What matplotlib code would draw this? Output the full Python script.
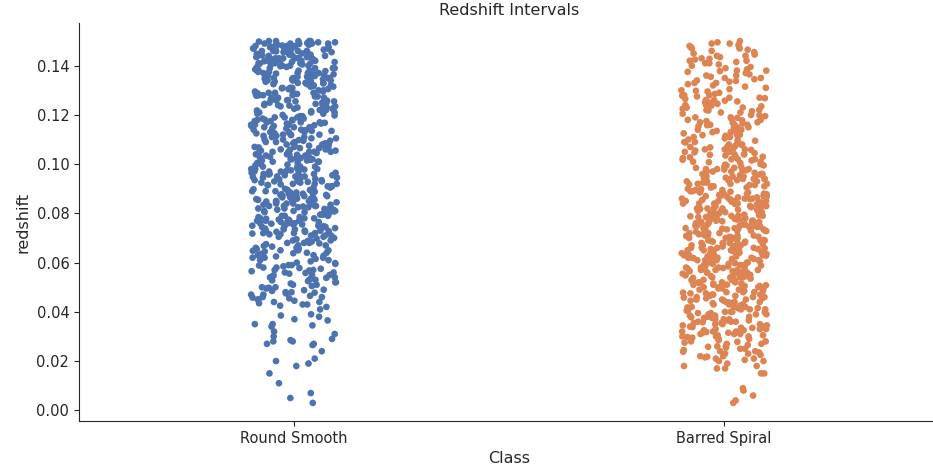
import numpy as np
import pandas as pd
import matplotlib
matplotlib.use("Agg")
import matplotlib.pyplot as plt
import seaborn as sns

classes = ["Round Smooth", "Barred Spiral"]

round_smooth = [
    0.150, 0.149, 0.150, 0.148, 0.147, 0.149, 0.146, 0.150, 0.148, 0.145, 0.147, 0.149, 0.146,
    0.148, 0.150, 0.145, 0.147, 0.149, 0.146, 0.148, 0.147, 0.150, 0.145, 0.149, 0.146,
    0.1495, 0.1485, 0.1475, 0.1465, 0.1455, 0.1495, 0.1485, 0.1475, 0.1465, 0.1455, 0.1498,
    0.1492, 0.1488, 0.1482, 0.1478, 0.1472, 0.1468, 0.1462, 0.1458, 0.1452,
    0.144, 0.142, 0.143, 0.141, 0.140, 0.144, 0.142, 0.143, 0.141, 0.144, 0.140, 0.143, 0.142,
    0.141, 0.144, 0.143, 0.140, 0.142, 0.141, 0.143,
    0.1445, 0.1435, 0.1425, 0.1415, 0.1405, 0.1445, 0.1435, 0.1425, 0.1415, 0.1405, 0.1448,
    0.1438, 0.1428, 0.1418, 0.1408, 0.1442, 0.1432, 0.1422,
    0.139, 0.138, 0.137, 0.136, 0.135, 0.134, 0.133, 0.132, 0.131, 0.130, 0.139, 0.137, 0.135,
    0.133, 0.131, 0.138, 0.136, 0.134, 0.132, 0.130, 0.139, 0.136, 0.133, 0.138, 0.135, 0.132,
    0.137, 0.134, 0.131, 0.139, 0.136, 0.138, 0.135, 0.133, 0.137,
    0.1395, 0.1385, 0.1375, 0.1365, 0.1355, 0.1345, 0.1335, 0.1325, 0.1315, 0.1305, 0.1395,
    0.1385, 0.1375, 0.1365, 0.1355, 0.1345, 0.1335, 0.1325, 0.1315, 0.1305, 0.1398, 0.1388,
    0.1378, 0.1368, 0.1358, 0.1348, 0.1338, 0.1328, 0.1318, 0.1308,
    0.129, 0.128, 0.127, 0.126, 0.125, 0.124, 0.123, 0.122, 0.121, 0.120, 0.129, 0.127, 0.125,
    0.123, 0.121, 0.128, 0.126, 0.124, 0.122, 0.128, 0.125, 0.122, 0.127, 0.124, 0.129, 0.126,
    0.123, 0.121,
    0.1295, 0.1285, 0.1275, 0.1265, 0.1255, 0.1245, 0.1235, 0.1225, 0.1215, 0.1205, 0.1295,
    0.1285, 0.1275, 0.1265, 0.1255, 0.1245, 0.1235, 0.1225, 0.1215, 0.1205, 0.1298, 0.1278,
    0.1258, 0.1238, 0.1218, 0.1288,
    0.119, 0.118, 0.117, 0.116, 0.115, 0.114, 0.113, 0.112, 0.111, 0.110, 0.119, 0.117, 0.115,
    0.113, 0.111, 0.118, 0.116, 0.114, 0.112, 0.118, 0.115, 0.112, 0.117, 0.114, 0.119, 0.116,
    0.113, 0.110,
    0.1195, 0.1185, 0.1175, 0.1165, 0.1155, 0.1145, 0.1135, 0.1125, 0.1115, 0.1105, 0.1195,
    0.1185, 0.1175, 0.1165, 0.1155, 0.1145, 0.1135, 0.1125, 0.1115, 0.1105, 0.1198, 0.1178,
    0.1158, 0.1138, 0.1118, 0.1168,
    0.109, 0.108, 0.107, 0.106, 0.105, 0.104, 0.103, 0.102, 0.101, 0.100, 0.109, 0.107, 0.105,
    0.103, 0.101, 0.108, 0.106, 0.104, 0.102, 0.108, 0.105, 0.102, 0.107, 0.104, 0.109, 0.106,
    0.103, 0.101, 0.107, 0.105,
    0.1095, 0.1085, 0.1075, 0.1065, 0.1055, 0.1045, 0.1035, 0.1025, 0.1015, 0.1005, 0.1095,
    0.1085, 0.1075, 0.1065, 0.1055, 0.1045, 0.1035, 0.1025, 0.1015, 0.1005, 0.1098, 0.1078,
    0.1058, 0.1038, 0.1018, 0.1068, 0.1048, 0.1028,
    0.099, 0.098, 0.097, 0.096, 0.095, 0.094, 0.093, 0.092, 0.091, 0.090, 0.099, 0.097, 0.095,
    0.093, 0.091, 0.098, 0.096, 0.094, 0.092, 0.098, 0.095, 0.092, 0.097, 0.094, 0.099, 0.096,
    0.093, 0.091, 0.097, 0.095,
    0.0995, 0.0985, 0.0975, 0.0965, 0.0955, 0.0945, 0.0935, 0.0925, 0.0915, 0.0905, 0.0995,
    0.0985, 0.0975, 0.0965, 0.0955, 0.0945, 0.0935, 0.0925, 0.0915, 0.0905, 0.0998, 0.0978,
    0.0958, 0.0938, 0.0918, 0.0968, 0.0948, 0.0928,
    0.089, 0.088, 0.087, 0.086, 0.085, 0.084, 0.083, 0.082, 0.081, 0.080, 0.089, 0.087, 0.085,
    0.083, 0.081, 0.088, 0.086, 0.084, 0.082, 0.088, 0.085, 0.082, 0.087, 0.084, 0.089, 0.086,
    0.083, 0.081, 0.087, 0.085, 0.083, 0.086,
    0.0895, 0.0885, 0.0875, 0.0865, 0.0855, 0.0845, 0.0835, 0.0825, 0.0815, 0.0805, 0.0895,
    0.0885, 0.0875, 0.0865, 0.0855, 0.0845, 0.0835, 0.0825, 0.0815, 0.0805, 0.0898, 0.0888,
    0.0878, 0.0868, 0.0858, 0.0848, 0.0838, 0.0828, 0.0818, 0.0808,
    0.079, 0.078, 0.077, 0.076, 0.075, 0.074, 0.073, 0.072, 0.071, 0.070, 0.079, 0.077, 0.075,
    0.073, 0.071, 0.078, 0.076, 0.074, 0.072, 0.078, 0.075, 0.072, 0.077, 0.074, 0.079, 0.076,
    0.073, 0.071, 0.077, 0.075,
    0.0795, 0.0785, 0.0775, 0.0765, 0.0755, 0.0745, 0.0735, 0.0725, 0.0715, 0.0705, 0.0795,
    0.0785, 0.0775, 0.0765, 0.0755, 0.0745, 0.0735, 0.0725, 0.0715, 0.0705, 0.0798, 0.0778,
    0.0758, 0.0738, 0.0718, 0.0768, 0.0748, 0.0728,
    0.069, 0.068, 0.067, 0.066, 0.065, 0.064, 0.063, 0.062, 0.061, 0.060, 0.069, 0.067, 0.065,
    0.063, 0.061, 0.068, 0.066, 0.064, 0.062, 0.068, 0.065, 0.062,
    0.0695, 0.0685, 0.0675, 0.0665, 0.0655, 0.0645, 0.0635, 0.0625, 0.0615, 0.0605, 0.0698,
    0.0688, 0.0678, 0.0668, 0.0658, 0.0648, 0.0638, 0.0628,
    0.059, 0.058, 0.057, 0.056, 0.055, 0.054, 0.053, 0.052, 0.051, 0.050, 0.059, 0.057, 0.055,
    0.053, 0.051, 0.058, 0.056, 0.054, 0.052, 0.050,
    0.0595, 0.0585, 0.0575, 0.0565, 0.0555, 0.0545, 0.0535, 0.0525, 0.0515, 0.0505, 0.0598,
    0.0588, 0.0578, 0.0568, 0.0558, 0.0548, 0.0538, 0.0528,
    0.049, 0.048, 0.047, 0.046, 0.045, 0.044, 0.043, 0.042, 0.041, 0.048, 0.046, 0.044, 0.047,
    0.043, 0.045,
    0.0495, 0.0485, 0.0475, 0.0465, 0.0455, 0.0445, 0.0435, 0.0425, 0.0498, 0.0478, 0.0458,
    0.0488,
    0.039, 0.037, 0.035, 0.035, 0.034, 0.032, 0.030, 0.031, 0.038, 0.0365, 0.0345, 0.0385,
    0.029, 0.028, 0.027, 0.027, 0.028, 0.024, 0.021, 0.020, 0.0285, 0.0265,
    0.019, 0.018, 0.015, 0.011,
    0.007, 0.005, 0.003,
]

barred_spiral = [
    0.150, 0.149, 0.148, 0.147, 0.146, 0.149, 0.147, 0.145,
    0.1495, 0.1485, 0.1475, 0.1465, 0.1455, 0.1478,
    0.144, 0.143, 0.142, 0.141, 0.140, 0.144, 0.142, 0.141,
    0.1445, 0.1435, 0.1425, 0.1415, 0.1405, 0.1428,
    0.139, 0.138, 0.137, 0.136, 0.135, 0.134, 0.133, 0.132, 0.131, 0.130, 0.138, 0.135, 0.133,
    0.136,
    0.1395, 0.1385, 0.1375, 0.1365, 0.1355, 0.1345, 0.1335, 0.1325, 0.1315, 0.1305, 0.1378,
    0.1338,
    0.129, 0.128, 0.127, 0.126, 0.125, 0.124, 0.123, 0.122, 0.121, 0.120, 0.128, 0.126, 0.124,
    0.122, 0.127, 0.125, 0.123, 0.121,
    0.1295, 0.1285, 0.1275, 0.1265, 0.1255, 0.1245, 0.1235, 0.1225, 0.1215, 0.1205, 0.1298,
    0.1278, 0.1258, 0.1238, 0.1218, 0.1268,
    0.119, 0.118, 0.117, 0.116, 0.115, 0.114, 0.113, 0.112, 0.111, 0.110, 0.118, 0.116, 0.114,
    0.112, 0.117, 0.115, 0.113, 0.111, 0.119, 0.116,
    0.1195, 0.1185, 0.1175, 0.1165, 0.1155, 0.1145, 0.1135, 0.1125, 0.1115, 0.1105, 0.1198,
    0.1178, 0.1158, 0.1138, 0.1118, 0.1188, 0.1168, 0.1148,
    0.109, 0.108, 0.107, 0.106, 0.105, 0.104, 0.103, 0.102, 0.101, 0.100, 0.108, 0.106, 0.104,
    0.102, 0.107, 0.105, 0.103, 0.101, 0.109, 0.106, 0.104, 0.102,
    0.1095, 0.1085, 0.1075, 0.1065, 0.1055, 0.1045, 0.1035, 0.1025, 0.1015, 0.1005, 0.1098,
    0.1088, 0.1078, 0.1068, 0.1058, 0.1048, 0.1038, 0.1028, 0.1018, 0.1008,
    0.099, 0.098, 0.097, 0.096, 0.095, 0.094, 0.093, 0.092, 0.091, 0.090, 0.098, 0.096, 0.094,
    0.092, 0.097, 0.095, 0.093, 0.091, 0.099, 0.096, 0.094, 0.092, 0.098, 0.095, 0.093, 0.097,
    0.091, 0.094,
    0.0995, 0.0985, 0.0975, 0.0965, 0.0955, 0.0945, 0.0935, 0.0925, 0.0915, 0.0905, 0.0995,
    0.0985, 0.0975, 0.0965, 0.0955, 0.0945, 0.0935, 0.0925, 0.0915, 0.0905, 0.0998, 0.0978,
    0.0958, 0.0938, 0.0918,
    0.089, 0.088, 0.087, 0.086, 0.085, 0.084, 0.083, 0.082, 0.081, 0.080, 0.089, 0.088, 0.087,
    0.086, 0.085, 0.084, 0.083, 0.082, 0.081, 0.080, 0.088, 0.086, 0.084, 0.082, 0.087, 0.085,
    0.083, 0.081, 0.089, 0.086, 0.084, 0.082, 0.087, 0.085, 0.083,
    0.0895, 0.0885, 0.0875, 0.0865, 0.0855, 0.0845, 0.0835, 0.0825, 0.0815, 0.0805, 0.0895,
    0.0885, 0.0875, 0.0865, 0.0855, 0.0845, 0.0835, 0.0825, 0.0815, 0.0805, 0.0898, 0.0888,
    0.0878, 0.0868, 0.0858, 0.0848, 0.0838, 0.0828, 0.0818, 0.0808,
    0.079, 0.078, 0.077, 0.076, 0.075, 0.074, 0.073, 0.072, 0.071, 0.070, 0.079, 0.078, 0.077,
    0.076, 0.075, 0.074, 0.073, 0.072, 0.071, 0.070, 0.079, 0.078, 0.077, 0.076, 0.075, 0.074,
    0.073, 0.072, 0.071, 0.070, 0.078, 0.076, 0.074, 0.072, 0.077, 0.075, 0.073, 0.071,
    0.0795, 0.0785, 0.0775, 0.0765, 0.0755, 0.0745, 0.0735, 0.0725, 0.0715, 0.0705, 0.0795,
    0.0785, 0.0775, 0.0765, 0.0755, 0.0745, 0.0735, 0.0725, 0.0715, 0.0705, 0.0798, 0.0788,
    0.0778, 0.0768, 0.0758, 0.0748, 0.0738, 0.0728, 0.0718, 0.0708, 0.0792, 0.0752,
    0.069, 0.068, 0.067, 0.066, 0.065, 0.064, 0.063, 0.062, 0.061, 0.060, 0.069, 0.068, 0.067,
    0.066, 0.065, 0.064, 0.063, 0.062, 0.061, 0.060, 0.069, 0.068, 0.067, 0.066, 0.065, 0.064,
    0.063, 0.062, 0.061, 0.060, 0.068, 0.066, 0.064, 0.062, 0.067, 0.065, 0.063, 0.061,
    0.0695, 0.0685, 0.0675, 0.0665, 0.0655, 0.0645, 0.0635, 0.0625, 0.0615, 0.0605, 0.0695,
    0.0685, 0.0675, 0.0665, 0.0655, 0.0645, 0.0635, 0.0625, 0.0615, 0.0605, 0.0698, 0.0688,
    0.0678, 0.0668, 0.0658, 0.0648, 0.0638, 0.0628, 0.0618, 0.0608, 0.0692, 0.0652,
    0.059, 0.058, 0.057, 0.056, 0.055, 0.054, 0.053, 0.052, 0.051, 0.050, 0.059, 0.058, 0.057,
    0.056, 0.055, 0.054, 0.053, 0.052, 0.051, 0.050, 0.059, 0.058, 0.057, 0.056, 0.055, 0.054,
    0.053, 0.052, 0.051, 0.050, 0.058, 0.056, 0.054, 0.052, 0.057,
    0.0595, 0.0585, 0.0575, 0.0565, 0.0555, 0.0545, 0.0535, 0.0525, 0.0515, 0.0505, 0.0595,
    0.0585, 0.0575, 0.0565, 0.0555, 0.0545, 0.0535, 0.0525, 0.0515, 0.0505, 0.0598, 0.0588,
    0.0578, 0.0568, 0.0558, 0.0548, 0.0538, 0.0528, 0.0518, 0.0508,
    0.049, 0.048, 0.047, 0.046, 0.045, 0.044, 0.043, 0.042, 0.041, 0.040, 0.049, 0.048, 0.047,
    0.046, 0.045, 0.044, 0.043, 0.042, 0.041, 0.040, 0.049, 0.048, 0.047, 0.046, 0.045, 0.044,
    0.043, 0.042, 0.041, 0.040,
    0.0495, 0.0485, 0.0475, 0.0465, 0.0455, 0.0445, 0.0435, 0.0425, 0.0415, 0.0405, 0.0495,
    0.0485, 0.0475, 0.0465, 0.0455, 0.0445, 0.0435, 0.0425, 0.0415, 0.0405, 0.0498, 0.0478,
    0.0458, 0.0438, 0.0418,
    0.039, 0.038, 0.037, 0.036, 0.035, 0.034, 0.033, 0.032, 0.031, 0.030, 0.039, 0.038, 0.037,
    0.036, 0.035, 0.034, 0.033, 0.032, 0.031, 0.030, 0.039, 0.038, 0.037, 0.036, 0.035, 0.034,
    0.033, 0.032, 0.031, 0.030,
    0.0395, 0.0385, 0.0375, 0.0365, 0.0355, 0.0345, 0.0335, 0.0325, 0.0315, 0.0305, 0.0395,
    0.0385, 0.0375, 0.0365, 0.0355, 0.0345, 0.0335, 0.0325, 0.0315, 0.0305, 0.0398, 0.0378,
    0.0358, 0.0338, 0.0318,
    0.029, 0.028, 0.027, 0.026, 0.025, 0.024, 0.023, 0.022, 0.021, 0.020, 0.029, 0.028, 0.027,
    0.026, 0.025, 0.024, 0.023, 0.022, 0.021, 0.020,
    0.0295, 0.0285, 0.0275, 0.0265, 0.0255, 0.0245, 0.0235, 0.0225, 0.0215, 0.0205, 0.0298,
    0.0278, 0.0258, 0.0238, 0.0218,
    0.019, 0.018, 0.018, 0.017, 0.017, 0.015, 0.015,
    0.009, 0.008, 0.006, 0.004, 0.003,
]

df = pd.DataFrame({
    "Class": [classes[0]] * len(round_smooth) + [classes[1]] * len(barred_spiral),
    "redshift": round_smooth + barred_spiral,
})

sns.set_style("ticks")
np.random.seed(3)

fig = plt.figure(figsize=(9.33, 4.74), dpi=100)
ax = fig.add_axes([0.0847, 0.1118, 0.9218, 0.8397])
sns.stripplot(data=df, x="Class", y="redshift", hue="Class",
              palette=["#4C72B0", "#DD8452"], size=4.8, ax=ax, legend=False)
ax.set_xlim(-0.5, 1.5)
ax.set_title("Redshift Intervals", fontsize=11.5, color="#262626")
ax.set_xlabel("Class", fontsize=11.5)
ax.set_ylabel("redshift", fontsize=11.5)
ax.tick_params(labelsize=10.5)
sns.despine(ax=ax)

fig.savefig("out.png", dpi=100)
